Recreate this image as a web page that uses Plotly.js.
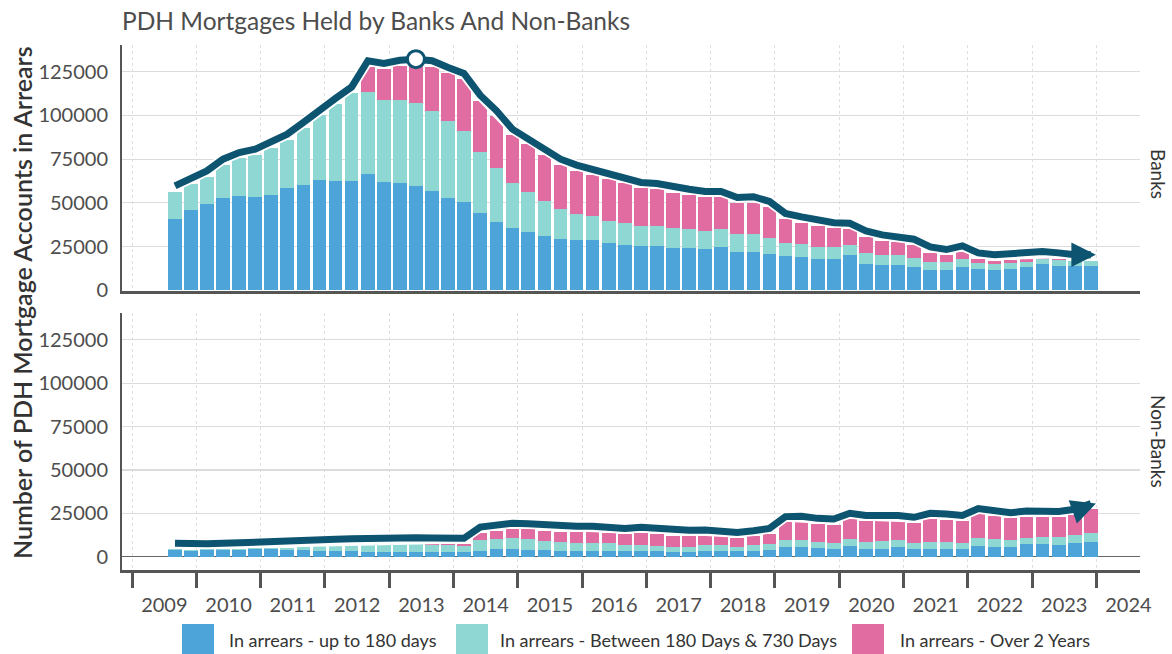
<!DOCTYPE html>
<html>
<head>
<meta charset="utf-8">
<script src="https://cdn.plot.ly/plotly-3.0.1.min.js"></script>
<style>
html,body{margin:0;padding:0;background:#fff;}
#chart{width:1172px;height:654px;}
</style>
</head>
<body>
<div id="chart"></div>
<script>
// Quarter-end periods (bars)
const quarters = [
"2009-09-01","2009-12-01",
"2010-03-01","2010-06-01","2010-09-01","2010-12-01",
"2011-03-01","2011-06-01","2011-09-01","2011-12-01",
"2012-03-01","2012-06-01","2012-09-01","2012-12-01",
"2013-03-01","2013-06-01","2013-09-01","2013-12-01",
"2014-03-01","2014-06-01","2014-09-01","2014-12-01",
"2015-03-01","2015-06-01","2015-09-01","2015-12-01",
"2016-03-01","2016-06-01","2016-09-01","2016-12-01",
"2017-03-01","2017-06-01","2017-09-01","2017-12-01",
"2018-03-01","2018-06-01","2018-09-01","2018-12-01",
"2019-03-01","2019-06-01","2019-09-01","2019-12-01",
"2020-03-01","2020-06-01","2020-09-01","2020-12-01",
"2021-03-01","2021-06-01","2021-09-01","2021-12-01",
"2022-03-01","2022-06-01","2022-09-01","2022-12-01",
"2023-03-01","2023-06-01","2023-09-01","2023-12-01"
];

const seriesNames = ["In arrears - up to 180 days","In arrears - Between 180 Days & 730 Days","In arrears - Over 2 Years"];
const panelNames = ["Banks","Non-Banks"];

// Banks
const banksUpTo180 = [
40800,46000,49600,52800,54000,53400,54700,58400,60300,63100,62600,62600,
66600,62200,61600,59700,56800,52800,50300,44400,39100,35600,33600,31100,
29200,28600,28600,27100,25900,25600,25600,24400,24400,23600,24800,22100,
22100,21000,19600,19200,17700,18100,20200,15000,14300,14300,13300,11800,
11800,13300,12200,11800,12400,13300,15200,13900,13900,13900];
const banks180to730 = [
15600,14600,15400,18900,21500,24000,26500,27600,32400,36900,43900,50400,
47100,46500,47100,47300,46000,44100,40700,34900,30900,25600,22700,19800,
17100,15300,13900,12800,12400,11400,11400,11300,10700,10300,10300,9900,
9900,9100,7300,7100,7300,6900,5900,6300,5900,5900,5400,4600,
4600,4400,3200,3100,3200,3100,2900,3400,3100,3100];
const banksOver2y = [
0,0,0,0,0,0,0,0,0,0,0,0,
14300,17700,19600,21900,25200,27200,29700,29000,29500,27700,27200,26500,
25400,24400,23500,23600,22900,21400,20800,20200,19400,19300,18100,17800,
18200,17400,13800,12400,11800,10400,8900,9400,8200,7400,7200,5100,
3600,4400,2700,2100,1700,1300,800,800,0,0];

// Non-Banks
const nbUpTo180 = [
3800,3300,3600,3800,4100,4200,4300,3900,3600,3400,3300,3300,
3000,3000,3000,2800,2800,2700,2700,3300,4200,4600,3850,3700,
3300,3300,3300,3300,3300,3300,3100,2700,2900,3500,3500,3100,
3500,3800,5600,5600,5000,4600,6200,4600,4600,5600,4600,4600,
4600,4600,6200,5800,5800,7100,7100,6700,7700,8600];
const nb180to730 = [
600,700,600,600,500,600,700,1400,2300,3000,3400,3700,
4300,4600,5000,4600,4100,4000,3400,6300,5800,6300,6350,5500,
5300,4800,4400,4400,3400,3200,3100,2700,2500,3400,3400,2300,
3000,3300,4000,4000,3600,3500,4000,4000,4400,4000,3500,3800,
3700,3500,4400,4200,3800,3800,4400,4800,4800,5200];
const nbOver2y = [
0,0,0,0,0,0,0,0,0,0,0,0,
0,0,0,300,600,700,1200,4200,5000,5100,5500,5800,
5600,6100,6500,5800,6200,7100,6800,6700,6500,5200,4800,5200,
5200,5900,10200,10400,10200,10300,11500,11800,11500,10900,11300,13300,
13000,12400,13800,13400,12500,12100,11500,11200,11500,13500];

const yTicks = [0,25000,50000,75000,100000,125000];

// styles
const colors = ["#4DA4D8","#8ED7D2","#E06CA1"];
const lineColor = "#0D5470";
const lineLift = 3300; // visual lift of the trend line above the bar tops
const fontFam = "Lato, 'Open Sans', sans-serif";

function totals(a,b,c){ return a.map((v,i)=>v+b[i]+c[i]); }

const panels = [
  {series:[banksUpTo180,banks180to730,banksOver2y], xa:"x", ya:"y", peak:true},
  {series:[nbUpTo180,nb180to730,nbOver2y], xa:"x2", ya:"y2", peak:false}
];

const traces = [];
const annotations = [];
panels.forEach(p=>{
  p.series.forEach((s,k)=>{
    traces.push({type:"bar", x:quarters, y:s, xaxis:p.xa, yaxis:p.ya,
      name:seriesNames[k], marker:{color:colors[k]}, showlegend:false, hoverinfo:"y+name"});
  });
  const tot = totals(p.series[0],p.series[1],p.series[2]);
  const lineY = tot.map(v=>v+lineLift);
  traces.push({type:"scatter", mode:"lines", x:quarters, y:lineY, xaxis:p.xa, yaxis:p.ya,
    line:{color:"#ffffff", width:10.5}, showlegend:false, hoverinfo:"skip"});
  traces.push({type:"scatter", mode:"lines", x:quarters, y:lineY, xaxis:p.xa, yaxis:p.ya,
    line:{color:lineColor, width:7}, showlegend:false, hoverinfo:"skip"});
  const n = quarters.length;
  annotations.push({xref:p.xa, yref:p.ya, axref:p.xa, ayref:p.ya,
    x:quarters[n-1], y:lineY[n-1], ax:quarters[n-2], ay:lineY[n-2], xshift:5,
    showarrow:true, arrowhead:2, arrowsize:0.7, arrowwidth:7, arrowcolor:lineColor, text:""});
  if(p.peak){
    let mi = 0; lineY.forEach((v,i)=>{ if(v>lineY[mi]) mi=i; });
    traces.push({type:"scatter", mode:"markers", x:[quarters[mi]], y:[lineY[mi]], xaxis:p.xa, yaxis:p.ya,
      marker:{size:17, color:"#ffffff", line:{color:lineColor, width:3}}, showlegend:false, hoverinfo:"skip"});
  }
});

// geometry helpers (paper coords)
const L=122, R=32, T=45, B=84, W=1172, H=654;
const pw = W-L-R, ph = H-T-B;
const px = v => (v-L)/pw;
const py = v => (H-B-v)/ph;

// facet labels
annotations.push({xref:"paper", yref:"paper", x:px(1158), y:py(174), text:panelNames[0], showarrow:false,
  textangle:90, font:{family:fontFam, size:19, color:"#333"}, xanchor:"center", yanchor:"middle"});
annotations.push({xref:"paper", yref:"paper", x:px(1158), y:py(441), text:panelNames[1], showarrow:false,
  textangle:90, font:{family:fontFam, size:19, color:"#333"}, xanchor:"center", yanchor:"middle"});
// y title
annotations.push({xref:"paper", yref:"paper", x:px(22), y:py(303), text:"Number of PDH Mortgage Accounts in Arrears",
  showarrow:false, textangle:-90, font:{family:fontFam, size:25, color:"#333", weight:600}, xanchor:"center", yanchor:"middle"});

// custom legend
const shapes = [];
const legX = [182,456,852];
const legTX = [227,498,898];
legX.forEach((x0,k)=>{
  shapes.push({type:"rect", xref:"paper", yref:"paper", x0:px(x0), x1:px(x0+32), y0:py(624), y1:py(656),
    fillcolor:colors[k], line:{width:0}});
  annotations.push({xref:"paper", yref:"paper", x:px(legTX[k]), y:py(640), xanchor:"left", yanchor:"middle",
    text:seriesNames[k], showarrow:false, font:{family:fontFam, size:18, color:"#333"}});
});

const xCommon = {
  type:"date", range:["2008-11-04","2024-09-05"],
  tick0:"2009-01-01", dtick:"M12", tickformat:"%Y", ticklabelmode:"period",
  showgrid:true, gridcolor:"#dedede", griddash:"dot", gridwidth:1,
  showline:true, linecolor:"#555", linewidth:2.5, zeroline:false,
  tickfont:{family:fontFam, size:20, color:"#4d4d4d"}
};
const yCommon = {
  tickvals:yTicks, ticktext:yTicks.map(String), showgrid:true, gridcolor:"#dcdcdc", gridwidth:1.2,
  showline:true, linecolor:"#555", linewidth:2, ticks:"", ticklabelstandoff:8,
  tickfont:{family:fontFam, size:20, color:"#4d4d4d"}, fixedrange:true
};

const layout = {
  width:W, height:H,
  margin:{l:L, r:R, t:T, b:B},
  paper_bgcolor:"#fff", plot_bgcolor:"#fff",
  barmode:"stack", bargap:0.14,
  showlegend:false,
  title:{text:"PDH Mortgages Held by Banks And Non-Banks", x:122/W, xanchor:"left", xref:"container",
    y:1-21/H, yanchor:"middle", font:{family:fontFam, size:24.5, color:"#4d4d4d"}},
  xaxis: Object.assign({}, xCommon, {anchor:"y", showticklabels:false, ticks:""}),
  xaxis2: Object.assign({}, xCommon, {anchor:"y2", matches:"x", ticks:"outside", ticklen:15, tickwidth:3, tickcolor:"#555"}),
  yaxis: Object.assign({}, yCommon, {domain:[py(291),1], range:[-400,140300], zeroline:false}),
  yaxis2: Object.assign({}, yCommon, {domain:[0,py(313)], range:[-7650,140400], zeroline:true, zerolinecolor:"#666", zerolinewidth:1.5}),
  annotations:annotations,
  shapes:shapes
};

Plotly.newPlot("chart", traces, layout, {displayModeBar:false, staticPlot:true});
</script>
</body>
</html>
